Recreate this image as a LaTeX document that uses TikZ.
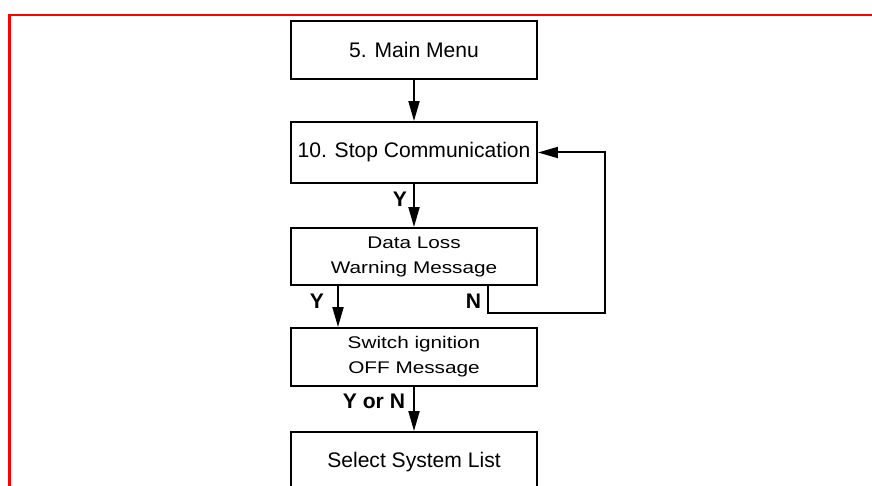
\documentclass[tikz,border=0pt]{standalone}
\usepackage{fontspec}
\setmainfont{Liberation Sans}
\newfontfamily\widefont{Liberation Sans}[FakeStretch=1.23]
\usetikzlibrary{arrows.meta,positioning}

\begin{document}
\begin{tikzpicture}[x=0.02cm, y=-0.02cm, line width=0.04cm,
      >={Triangle[length=0.4cm, width=0.22cm]},
      box/.style={draw, align=center, inner sep=0pt, minimum width=4.92cm,
        font=\fontsize{12}{14.4}\selectfont},
      msg/.style={box, font=\widefont\fontsize{9.6}{14.2}\selectfont},
      lbl/.style={inner sep=0pt, font=\bfseries\fontsize{12}{14.4}\selectfont}]
    \useasboundingbox (0,0) rectangle (872,486);
    \clip (0,0) rectangle (872,486);
    % frame
    \draw[red, line width=0.05cm] (9.5,600) -- (9.5,15) -- (900,15);
    % boxes
    \node[box, minimum height=1.16cm] (menu) at (414,50) {5. Main Menu};
    \node[box, minimum height=1.22cm] (stop) at (414,152.5) {10. Stop Communication};
    \node[msg, minimum height=1.14cm] (loss) at (414,256.5) {Data Loss\\Warning Message};
    \node[msg, minimum height=1.16cm] (ign) at (414,357) {Switch ignition\\OFF Message};
    \node[box, minimum height=1.2cm] (sys) at (414,462) {Select System List};
    % split points
    \coordinate (ysplit) at (338,300);
    \coordinate (nsplit) at (488,300);
    \coordinate (nturn) at (605,313);
    % connectors
    \draw[->] (menu) -- (stop);
    \draw[->] (stop) -- (loss);
    \draw[->] (loss.south -| ysplit) -- (ign.north -| ysplit);
    \draw[->] (loss.south -| nsplit) |- (nturn) |- (stop.east);
    \draw[->] (ign) -- (sys);
    % labels
    \node[lbl, anchor=north east] (y1) at ([xshift=-0.12cm, yshift=-0.14cm]stop.south) {Y};
    \node[lbl, anchor=north east] (y2) at ([xshift=-0.26cm, yshift=-0.14cm]loss.south -| ysplit) {Y};
    \node[lbl, anchor=north east] (n1) at ([xshift=-0.12cm, yshift=-0.14cm]loss.south -| nsplit) {N};
    \node[lbl, anchor=north east] (yn) at ([xshift=-0.16cm, yshift=-0.12cm]ign.south) {Y or N};
  \end{tikzpicture}
\end{document}
